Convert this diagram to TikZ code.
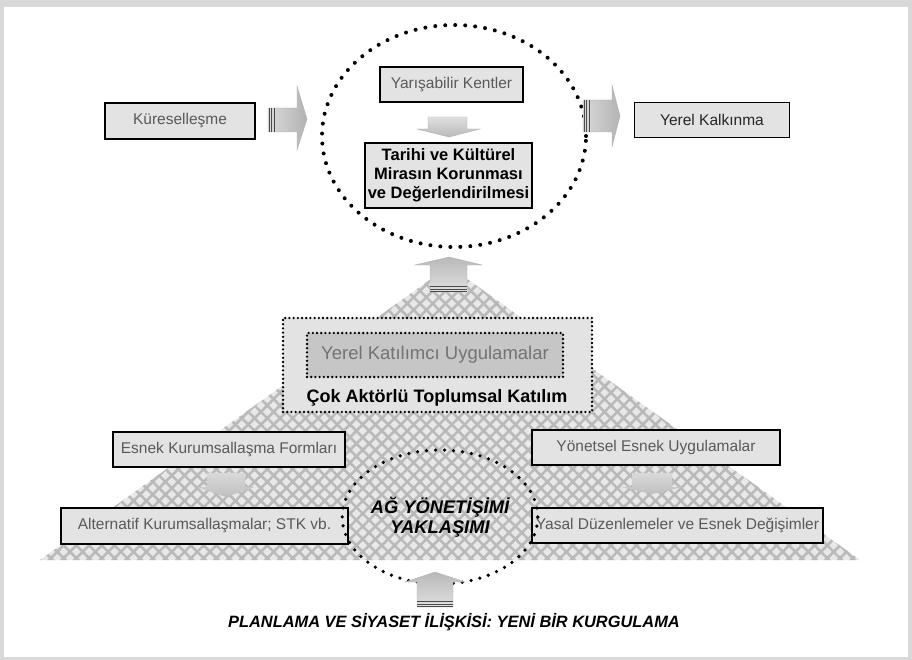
\documentclass[tikz,border=0pt]{standalone}
\usepackage{fontspec}
\setmainfont{Liberation Sans}
\usetikzlibrary{patterns,patterns.meta,shapes.geometric}
\tikzset{
	every node/.style={font=\fontsize{15.5}{18}\selectfont,inner sep=0pt,outer sep=0pt},
	box/.style={rectangle,draw,line width=1.8pt,fill=gray!22,text=black!65,minimum height=35},
	dotbox/.style={rectangle,draw,line width=2.6pt,dash pattern=on 0pt off 4.2pt,line cap=round},
	ring/.style={ellipse,draw,line width=4pt,dash pattern=on 0pt off 10pt,line cap=round},
	blockarrow/.style={draw=gray!60,line width=0.4pt},
	stripe/.style={draw=black!70,line width=0.6pt}
	}
\begin{document}
\begin{tikzpicture}[x=1pt,y=-1pt]
		\fill[gray!30] (0,0) rectangle (912,660);
		\fill[white] (4,7) rectangle (908,657);
		\useasboundingbox (0,0) rectangle (912,660);

		% pyramid
		\coordinate (apex) at (449,266);
		\coordinate (baseL) at (40,560);
		\coordinate (baseR) at (860,560);
		\fill[gray!18] (apex) -- (baseL) -- (baseR) -- cycle;
		\fill[pattern={Lines[angle=45,distance=9pt,line width=2.6pt]},pattern color=gray!55] (apex) -- (baseL) -- (baseR) -- cycle;
		\fill[pattern={Lines[angle=-45,distance=9pt,line width=2.6pt]},pattern color=gray!55] (apex) -- (baseL) -- (baseR) -- cycle;

		\node[ring,minimum width=264,minimum height=222] (cities) at (454,136) {};
		\node[box,minimum width=150,minimum height=36] (kure) at (180,121) {Küreselleşme};
		\node[box,minimum width=143] (yaris) at (451.5,84.5) {Yarışabilir Kentler};
		\node[box,minimum width=167,minimum height=65,align=center,text=black,
			font=\fontsize{16.5}{19}\selectfont\bfseries] (tarihi) at (448.5,175.5)
			{Tarihi ve Kültürel\\Mirasın Korunması\\ve Değerlendirilmesi};
		\node[box,minimum width=155,text=black!85] (kalkinma) at (712,120) {Yerel Kalkınma};

		\node[dotbox,fill=gray!22,minimum width=309,minimum height=94] (cok) at (437.5,365) {};
		\node[dotbox,fill=gray!45,text=black!55,minimum width=256,minimum height=44,
			font=\fontsize{18.5}{20}\selectfont] (katilim) at (435,355) {Yerel Katılımcı Uygulamalar};
		\node[font=\fontsize{18}{20}\selectfont\bfseries] (coklabel) at (437,398) {Çok Aktörlü Toplumsal Katılım};

		\node[box,minimum width=232] (esnek) at (229,449.5) {Esnek Kurumsallaşma Formları};
		\node[box,minimum width=287,minimum height=36] (alter) at (204.5,526) {Alternatif Kurumsallaşmalar; STK vb.};
		\node[box,minimum width=248] (yonet) at (656,447.5) {Yönetsel Esnek Uygulamalar};
		\node[box,minimum width=291] (yasal) at (677.5,525.5) {Yasal Düzenlemeler ve Esnek Değişimler};

		\node[ring,line width=3.6pt,dash pattern=on 0pt off 9pt,minimum width=176,minimum height=134,
			align=center,font=\fontsize{18.3}{20}\selectfont\bfseries\itshape] (ag) at (440,517)
			{AĞ YÖNETİŞİMİ\\YAKLAŞIMI};

		\node[font=\fontsize{16.4}{18}\selectfont\bfseries\itshape] (title) at (454,622)
			{PLANLAMA VE SİYASET İLİŞKİSİ: YENİ BİR KURGULAMA};

		% block arrows
		\draw[blockarrow,left color=gray!30,right color=gray!60] (268,108) -- (297,108) -- (297,86) -- (307,119)
			-- (297,150) -- (297,132) -- (268,132) -- cycle;
		\foreach \x in {269,271.5,274} \draw[stripe] (\x,108) -- (\x,132);
		\draw[blockarrow,left color=gray!30,right color=gray!60] (583,100) -- (612,100) -- (612,85) -- (620,116)
			-- (612,147) -- (612,132) -- (583,132) -- cycle;
		\foreach \x in {584,586.5,589} \draw[stripe] (\x,100) -- (\x,132);
		\draw[blockarrow,top color=gray!25,bottom color=gray!55] (428,117) -- (467,117) -- (467,129) -- (480,129)
			-- (449,137) -- (417,129) -- (428,129) -- cycle;
		\draw[blockarrow,top color=gray!55,bottom color=gray!25] (430,292) -- (430,265) -- (415,265) -- (449,257)
			-- (482,265) -- (467,265) -- (467,292) -- cycle;
		\foreach \y in {286,289,291} \draw[stripe] (430,\y) -- (467,\y);
		\draw[blockarrow,top color=gray!55,bottom color=gray!25] (417,607) -- (417,582) -- (405,582) -- (435,572)
			-- (465,582) -- (453,582) -- (453,607) -- cycle;
		\foreach \y in {601,604,606} \draw[stripe] (417,\y) -- (453,\y);
		\draw[draw=none,top color=gray!30,bottom color=gray!50] (207,473) -- (245,473) -- (245,487) -- (255,487)
			-- (226,497) -- (197,487) -- (207,487) -- cycle;
		\draw[draw=none,top color=gray!30,bottom color=gray!50] (632,473) -- (672,473) -- (672,487) -- (683,487)
			-- (652,494) -- (620,487) -- (632,487) -- cycle;
	\end{tikzpicture}
\end{document}
